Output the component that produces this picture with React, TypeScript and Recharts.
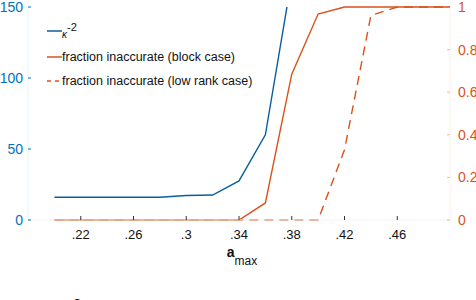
import { Legend, Line, LineChart, XAxis, YAxis } from "recharts";

// a_max sample points
const aMax = [0.2, 0.22, 0.24, 0.26, 0.28, 0.3, 0.32, 0.34, 0.36, 0.38, 0.4, 0.42, 0.44, 0.46, 0.48, 0.5];
// kappa^-2 (left axis), goes off the top after .36
const kappaInvSq = [16, 16, 16, 16, 16, 17.3, 17.6, 27.5, 60, 170, null, null, null, null, null, null];
// fraction inaccurate (right axis)
const fracBlock = [0, 0, 0, 0, 0, 0, 0, 0, 0.08, 0.685, 0.967, 1, 1, 1, 1, 1];
const fracLowRank = [0, 0, 0, 0, 0, 0, 0, 0, 0, 0, 0, 0.33, 0.96, 1, 1, 1];

const xTicks = [0.22, 0.26, 0.3, 0.34, 0.38, 0.42, 0.46];
const leftTicks = [0, 50, 100, 150];
const rightTicks = [0, 0.2, 0.4, 0.6, 0.8, 1];

const BLUE = "#0072BD";
const BLUE_LINE = "#0b5e9e";
const ORANGE = "#D95319";
const FONT = "'Liberation Sans', Arial, sans-serif";

const data = aMax.map((x, i) => ({
  x,
  kappa: kappaInvSq[i],
  block: fracBlock[i],
  lowRank: fracLowRank[i],
}));

const series = [
  { key: "kappa", name: "κ-2", color: BLUE_LINE, dash: undefined, axis: "left" },
  { key: "block", name: "fraction inaccurate (block case)", color: ORANGE, dash: undefined, axis: "right" },
  { key: "lowRank", name: "fraction inaccurate (low rank case)", color: ORANGE, dash: "9 6", axis: "right" },
];

const fmtX = (v: number) => v.toFixed(2).replace(/^0/, "").replace(/0$/, "");

function BottomTick({ x, y, payload }: any) {
  return (
    <g>
      <line x1={x} x2={x} y1={y - 10} y2={y - 14} stroke="#333" />
      <text x={x} y={y} dy="0.71em" textAnchor="middle" fontSize={13} fontFamily={FONT} fill="#111">
        {fmtX(payload.value)}
      </text>
    </g>
  );
}

function TopTick({ x, y }: any) {
  return <line x1={x} x2={x} y1={y} y2={y + 4} stroke="#333" />;
}

function LeftTick({ x, y, payload }: any) {
  return (
    <g>
      <line x1={x + 5} x2={x + 8} y1={y} y2={y} stroke={BLUE} />
      <text x={x} y={y} dy="0.355em" textAnchor="end" fontSize={14} fontFamily={FONT} fill={BLUE}>
        {payload.value}
      </text>
    </g>
  );
}

function RightTick({ x, y, payload }: any) {
  return (
    <g>
      <line x1={x - 8} x2={x - 11} y1={y} y2={y} stroke={ORANGE} strokeOpacity={0.4} />
      <text x={x} y={y} dy="0.355em" textAnchor="start" fontSize={14} fontFamily={FONT} fill={ORANGE}>
        {payload.value}
      </text>
    </g>
  );
}

function AxisLabel({ viewBox }: any) {
  const cx = viewBox.x + viewBox.width / 2 + 3;
  return (
    <g fontFamily={FONT} fill="#111">
      <text x={cx} y={257} textAnchor="middle">
        <tspan fontWeight="bold" fontSize={14}>a</tspan>
        <tspan fontSize={12} dy={8}>max</tspan>
      </text>
      <text x={73} y={309} fontSize={15}>2</text>
    </g>
  );
}

const rowTops = [18.5, 44.5, 68.5];

function LegendBox() {
  return (
    <div style={{ position: "relative", width: 200, height: 90, fontFamily: FONT, fontSize: 12.5, color: "#111" }}>
      {series.map((s, i) => (
        <div key={s.key} style={{ position: "absolute", left: 0, top: rowTops[i] - 18.5, height: 25, lineHeight: "25px", whiteSpace: "nowrap" }}>
          <svg width={15} height={4} style={{ position: "absolute", left: 0, top: 10.5 }}>
            <line x1={0} x2={15} y1={2} y2={2} stroke={s.color} strokeWidth={1.5} strokeDasharray={s.dash ? "4 4" : undefined} />
          </svg>
          <span style={{ position: "absolute", left: 15 }}>
            {s.key === "kappa" ? (
              <>
                <span style={{ position: "relative", top: 3, fontSize: 10, fontStyle: "italic" }}>κ</span>
                <span style={{ position: "relative", top: -4, fontSize: 11 }}>-2</span>
              </>
            ) : (
              s.name
            )}
          </span>
        </div>
      ))}
    </div>
  );
}

export default function App() {
  return (
    <div style={{ position: "absolute", left: 0, top: 0, width: 476, height: 300, background: "#fff" }}>
      <LineChart width={476} height={300} data={data} margin={{ top: 7, right: 0, bottom: 0, left: 0 }}>
        <XAxis
          dataKey="x"
          type="number"
          domain={[0.18, 0.5]}
          ticks={xTicks}
          height={80}
          tickSize={0}
          tickMargin={10}
          tickLine={false}
          axisLine={{ stroke: "#f2f2f2" }}
          tick={(p: any) => <BottomTick {...p} />}
          label={(p: any) => <AxisLabel {...p} />}
          interval={0}
        />
        <XAxis
          xAxisId="top"
          dataKey="x"
          type="number"
          orientation="top"
          domain={[0.18, 0.5]}
          ticks={xTicks}
          height={0}
          tickSize={0}
          tickMargin={0}
          tickLine={false}
          axisLine={false}
          tick={(p: any) => <TopTick {...p} />}
          interval={0}
        />
        <YAxis
          yAxisId="left"
          domain={[0, 150]}
          ticks={leftTicks}
          allowDataOverflow
          width={28}
          tickSize={0}
          tickMargin={5}
          tickLine={false}
          axisLine={{ stroke: "#e6f3fb" }}
          tick={(p: any) => <LeftTick {...p} />}
          interval={0}
        />
        <YAxis
          yAxisId="right"
          orientation="right"
          domain={[0, 1]}
          ticks={rightTicks}
          width={26}
          tickSize={0}
          tickMargin={8}
          tickLine={false}
          axisLine={{ stroke: "#fdefe8" }}
          tick={(p: any) => <RightTick {...p} />}
          interval={0}
        />
        <Legend
          layout="horizontal"
          verticalAlign="middle"
          align="center"
          content={() => <LegendBox />}
          wrapperStyle={{ position: "absolute", left: 47, top: 18.5, width: 200, height: 90 }}
        />
        {series.map((s) => (
          <Line
            key={s.key}
            yAxisId={s.axis}
            dataKey={s.key}
            name={s.name}
            stroke={s.color}
            strokeWidth={1.4}
            strokeDasharray={s.dash}
            dot={false}
            activeDot={false}
            type="linear"
            connectNulls={false}
            isAnimationActive={false}
          />
        ))}
      </LineChart>
    </div>
  );
}
